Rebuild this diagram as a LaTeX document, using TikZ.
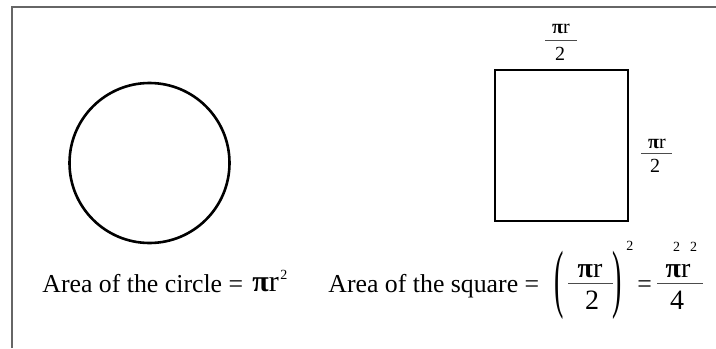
\documentclass[tikz,border=0pt]{standalone}
\usepackage{fontspec}
\setmainfont{Liberation Serif}
\usepackage{graphicx}
\newcommand\bpi{\textbf{π}}
\begin{document}
\begin{tikzpicture}[x=0.5pt,y=-0.5pt,
  txt/.style={inner sep=0,font=\fontsize{12.9}{15}\selectfont},
  frm/.style={inner sep=0,font=\fontsize{14}{16}\selectfont},
  sup/.style={inner sep=0,font=\fontsize{7}{8}\selectfont},
  lbl/.style={inner sep=0,font=\fontsize{10}{12}\selectfont},
  bar/.style={black!70,line width=0.5pt}]
\useasboundingbox (0,0) rectangle (716,348);
% --- frame ---
\draw[black!60,line width=0.8pt] (12,348) -- (12,7) -- (716,7);
% --- circle and square ---
\draw[line width=1.3pt] (149.5,163) circle (80);
\draw[line width=1.4pt] (495,70) rectangle (628,221);
% --- side labels ---
\node[lbl,anchor=base] (topnum) at (561,33) {\bpi r};
\draw[bar] (545,40) -- (577,40);
\node[lbl,anchor=base] (topden) at (560,60) {2};
\node[lbl,anchor=base] (sidenum) at (657,148) {\bpi r};
\draw[bar] (641,153) -- (672,153);
\node[lbl,anchor=base] (sideden) at (655,172) {2};
% --- area of the circle ---
\node[txt,anchor=base west] (circtext) at (42,292) {Area of the circle =};
\node[frm,font=\fontsize{15}{17}\selectfont,anchor=base west] (circpi) at (252,291) {\bpi r};
\node[sup,anchor=base west] (circsup) at (280,279) {2};
% --- area of the square ---
\node[txt,anchor=base west] (sqtext) at (328,292) {Area of the square =};
\node[frm] (lpar) at (559,285) {\scalebox{1}[2.7]{(}};
\node[frm,anchor=base] (sqnum) at (590,277) {\bpi r};
\draw[bar] (568,283) -- (613,283);
\node[frm,anchor=base] (sqden) at (592,309) {2};
\node[frm] (rpar) at (617,285) {\scalebox{1}[2.7]{)}};
\node[sup,anchor=base west] (parsup) at (626,250) {2};
\node[txt,anchor=base west] (sqeq) at (637,292) {=};
\node[frm,anchor=base] (resnum) at (678,277) {\bpi r};
\node[sup,anchor=base] (ressup) at (685,251) {2\hspace{5pt}2};
\draw[bar] (657,283) -- (703,283);
\node[frm,anchor=base] (resden) at (677,309) {4};
\end{tikzpicture}
\end{document}
